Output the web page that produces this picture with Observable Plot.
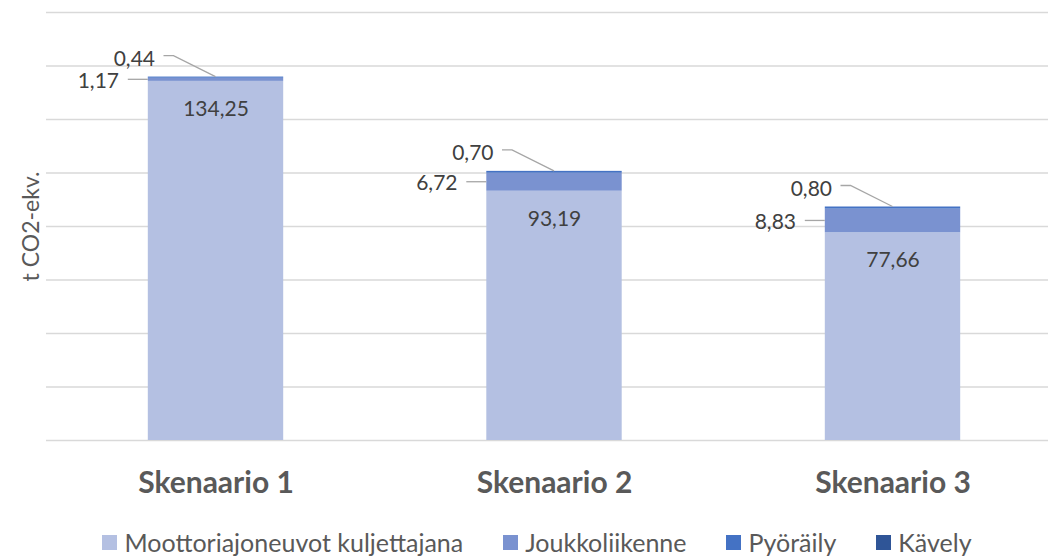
<!DOCTYPE html>
<html>
<head>
<meta charset="utf-8">
<script src="https://cdn.jsdelivr.net/npm/d3@7"></script>
<script src="https://cdn.jsdelivr.net/npm/@observablehq/plot@0.6"></script>
<style>
  html, body { margin: 0; padding: 0; background: #fff; }
  body { width: 1048px; height: 556px; overflow: hidden; font-family: Lato, "Open Sans", sans-serif; }
  #legend { display: flex; justify-content: center; align-items: center; gap: 40px; height: 28px; margin-top: 12px; padding-left: 26px; font-size: 25px; color: #595959; }
  #legend .item { display: flex; align-items: center; gap: 7px; white-space: nowrap; }
  #legend .sw { width: 15px; height: 15px; display: inline-block; }
</style>
</head>
<body>
<div id="chart"></div>
<div id="legend"></div>
<script>
const categories = ["Skenaario 1", "Skenaario 2", "Skenaario 3"];
const seriesNames = ["Moottoriajoneuvot kuljettajana", "Joukkoliikenne", "Pyöräily", "Kävely"];
const moottori = [134.25, 93.19, 77.66];
const joukko = [1.17, 6.72, 8.83];
const pyoraily = [0.44, 0.70, 0.80];
const kavely = [0, 0, 0];
const yTicks = [0, 20, 40, 60, 80, 100, 120, 140, 160];
const colors = ["#B4C0E2", "#7A92D0", "#4472C4", "#2F5597"];
const axisTitle = "t CO2-ekv.";

const seriesValues = [moottori, joukko, pyoraily, kavely];
const rows = [];
categories.forEach((c, i) => {
  let acc = 0;
  seriesValues.forEach((vals, s) => {
    const v = vals[i];
    rows.push({i, cat: c, series: seriesNames[s], value: v, y1: acc, y2: acc + v});
    acc += v;
  });
});
const fmt = v => v.toFixed(2).replace(".", ",");
const half = 0.2;
const rowsOf = name => rows.filter(d => d.series === name);

const leaders = (index, scales) => {
  const g = d3.create("svg:g").attr("fill", "none").attr("stroke", "#A6A6A6").attr("stroke-width", 1.3);
  for (const d of rowsOf("Pyöräily")) {
    const cx = scales.x(d.i), top = scales.y(d.y2);
    g.append("path").attr("d", `M${cx - 52},${top - 21}H${cx - 42}L${cx},${top}`);
  }
  for (const d of rowsOf("Joukkoliikenne")) {
    const left = scales.x(d.i - half), mid = scales.y((d.y1 + d.y2) / 2);
    g.append("path").attr("d", `M${left - 20},${mid}H${left}`);
  }
  return g.node();
};

const chart = Plot.plot({
  width: 1048,
  height: 516,
  marginLeft: 46,
  marginRight: 0,
  marginTop: 12,
  marginBottom: 76,
  style: {fontFamily: "Lato, 'Open Sans', sans-serif", background: "#fff"},
  x: {type: "linear", domain: [-0.5, 2.5], range: [46.25, 1061.75], axis: null},
  y: {domain: [0, 160], range: [440, 12], axis: null},
  color: {domain: seriesNames, range: colors},
  marks: [
    Plot.ruleY(yTicks, {stroke: "#D9D9D9", strokeWidth: 1.3}),
    Plot.rect(rows.filter(d => d.value > 0), {x1: d => d.i - half, x2: d => d.i + half, y1: "y1", y2: "y2", fill: "series"}),
    leaders,
    Plot.text(rowsOf("Moottoriajoneuvot kuljettajana"), {x: "i", y: "y2", dy: 28, text: d => fmt(d.value), fontSize: 21, fill: "#404040"}),
    Plot.text(rowsOf("Joukkoliikenne"), {x: "i", y: d => (d.y1 + d.y2) / 2, dx: -97, dy: 1, textAnchor: "end", text: d => fmt(d.value), fontSize: 21, fill: "#404040"}),
    Plot.text(rowsOf("Pyöräily"), {x: "i", y: "y2", dx: -61, dy: -18, textAnchor: "end", text: d => fmt(d.value), fontSize: 21, fill: "#404040"}),
    Plot.text(categories, {x: (d, i) => i, y: () => 0, dy: 43, text: d => d, fontSize: 30, fontWeight: "bold", fill: "#595959"}),
    Plot.text([axisTitle], {frameAnchor: "left", textAnchor: "middle", dx: -15, rotate: -90, text: d => d, fontSize: 23, fill: "#595959"})
  ]
});
document.getElementById("chart").append(chart);

const legend = d3.select("#legend");
seriesNames.forEach((name, s) => {
  const item = legend.append("div").attr("class", "item");
  item.append("span").attr("class", "sw").style("background", colors[s]);
  item.append("span").text(name);
});
</script>
</body>
</html>
